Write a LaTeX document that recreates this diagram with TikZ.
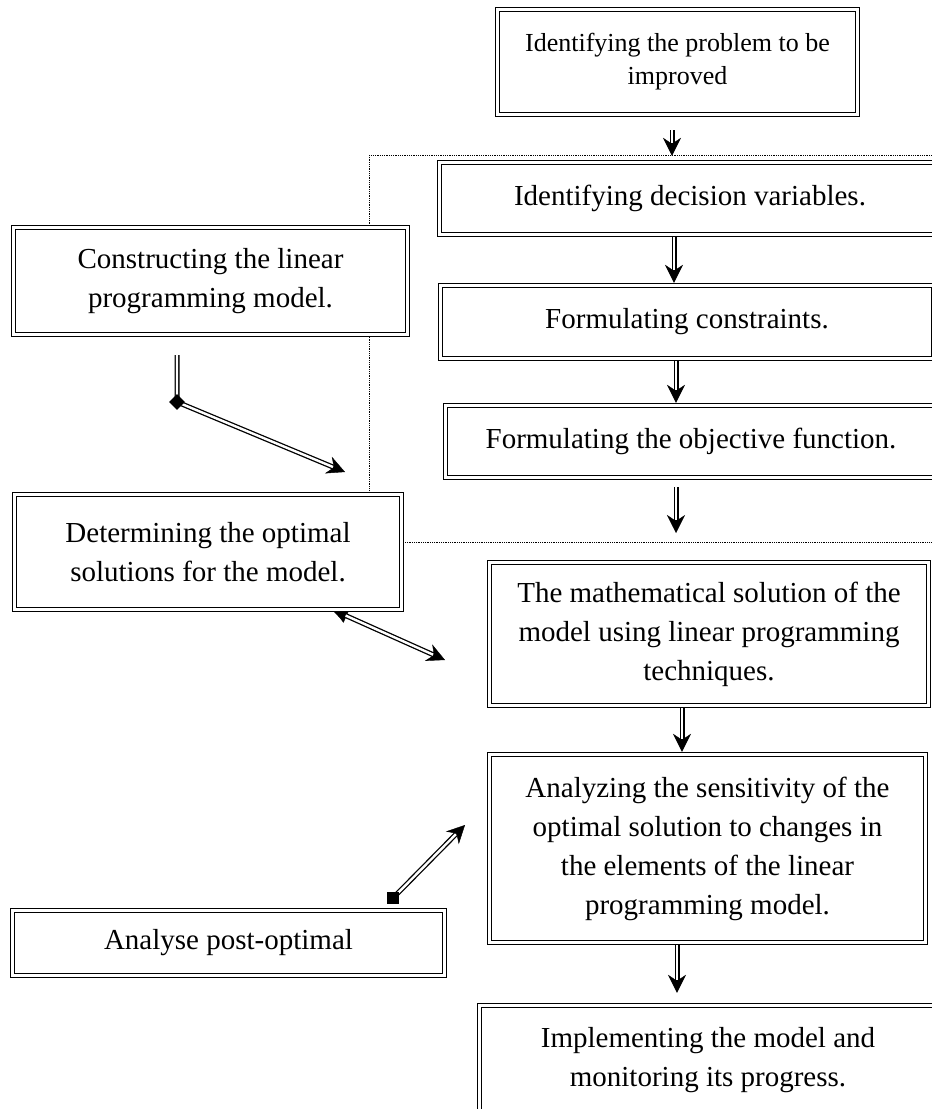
\documentclass[tikz,border=0pt]{standalone}
\usepackage{fontspec}
\setmainfont{Liberation Serif}
\usetikzlibrary{arrows.meta,shapes.geometric,calc,backgrounds}
\newcommand\DArrow[3]{%
  \draw[arrblk, shorten <=#2, shorten >=#3] #1;
  \draw[arrwht, shorten <=#2, shorten >=#3+13pt] #1;}
\begin{document}
\begin{tikzpicture}[x=1pt,y=-1pt,
  box/.style={draw, double, line width=1.4pt, double distance=2.2pt, fill=white,
    align=center, inner sep=0pt, font=\fontsize{29}{39}\selectfont},
  tipend/.tip={Stealth[length=18pt,width=18pt,inset=6pt,line width=0.4pt]},
  arrblk/.style={draw, line width=5pt, -tipend},
  arrwht/.style={draw=white, line width=2.4pt},
  frame/.style={draw, densely dotted, line width=0.8pt},
  blob/.style={fill, inner sep=0pt}
]
\useasboundingbox (0,0) rectangle (932,1109);
\clip (0,0) rectangle (932,1109);

% boxes
\node[box, minimum width=360pt, minimum height=105pt, font=\fontsize{26}{33}\selectfont] (prob) at (677.5,62) {Identifying the problem to be\\ improved};
\node[box, minimum width=501pt, minimum height=72pt] (dec) at (690,198.5) {Identifying decision variables.};
\node[box, minimum width=493pt, minimum height=73pt] (cons) at (687,322) {Formulating constraints.};
\node[box, minimum width=491pt, minimum height=72pt] (obj) at (691,441.5) {Formulating the objective function.};
\node[box, minimum width=394pt, minimum height=107pt] (constr) at (210.5,281) {Constructing the linear\\ programming model.};
\node[box, minimum width=387pt, minimum height=115pt] (det) at (208,552) {Determining the optimal\\ solutions for the model.};
\node[box, minimum width=439pt, minimum height=143pt] (math) at (709,634) {The mathematical solution of the\\ model using linear programming\\ techniques.};
\node[box, minimum width=436pt, minimum height=188pt] (anal) at (707.5,848.5) {Analyzing the sensitivity of the\\ optimal solution to changes in\\ the elements of the linear\\ programming model.};
\node[box, minimum width=432pt, minimum height=65pt] (post) at (228.5,943) {Analyse post-optimal};
\node[box, minimum width=457pt, minimum height=109pt] (impl) at (708,1060) {Implementing the model and\\ monitoring its progress.};

% helper coordinates
\coordinate (x1) at (672,0);
\coordinate (x2) at (674,0);
\coordinate (x3) at (676,0);
\coordinate (x5) at (682,0);
\coordinate (x6) at (677,0);
\coordinate (oend) at (676,533);
\coordinate (dia) at (177,402);
\coordinate (aend) at (345,472);
\coordinate (bstart) at (331,609);
\coordinate (bend) at (445,660);
\coordinate (sq) at (393,898);
\coordinate (cend) at (465,825);

\begin{scope}[on background layer]
  \draw[frame] (369,155) rectangle (960,542);
  \draw[arrblk, {Latex[length=17pt,width=15pt,line width=0.4pt]}-tipend] (bstart) -- (bend);
  \draw[arrwht, shorten <=16pt, shorten >=13pt] (bstart) -- (bend);
\end{scope}

% vertical arrows
\DArrow{(prob.south -| x1) -- (dec.north -| x1)}{15pt}{6pt}
\DArrow{(dec.south -| x2) -- (cons.north -| x2)}{2pt}{2pt}
\DArrow{(cons.south -| x3) -- (obj.north -| x3)}{2pt}{2pt}
\DArrow{(obj.south -| x3) -- (oend)}{9pt}{0pt}
\DArrow{(math.south -| x5) -- (anal.north -| x5)}{2pt}{2pt}
\DArrow{(anal.south -| x6) -- (impl.north -| x6)}{2pt}{12pt}

% diagonal arrows
\DArrow{(constr.south -| dia) -- (dia) -- (aend)}{20pt}{0pt}
\DArrow{(sq) -- (cend)}{0pt}{0pt}
\node[blob, diamond, minimum width=16pt, minimum height=16pt] (diamk) at (dia) {};
\node[blob, rectangle, minimum width=12pt, minimum height=12pt] (sqmk) at (sq) {};
\end{tikzpicture}
\end{document}
